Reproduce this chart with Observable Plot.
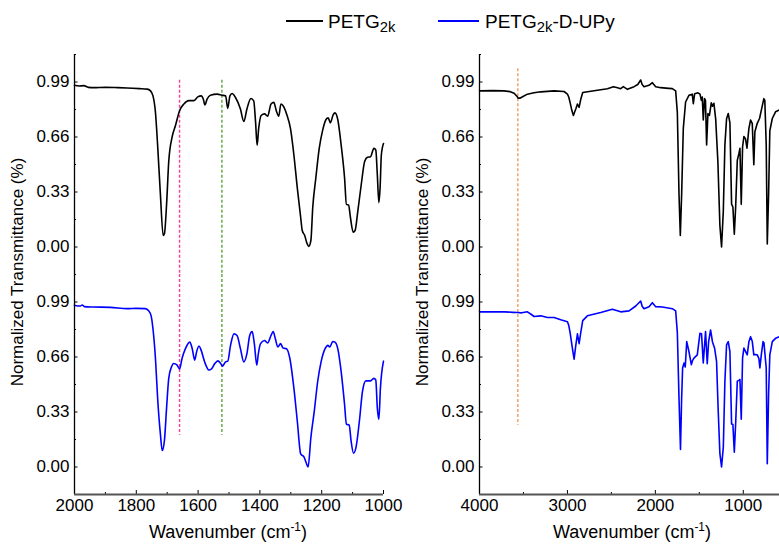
<!DOCTYPE html>
<html>
<head>
<meta charset="utf-8">
<script src="https://cdn.jsdelivr.net/npm/d3@7"></script>
<script src="https://cdn.jsdelivr.net/npm/@observablehq/plot@0.6"></script>
<style>
  html, body { margin: 0; padding: 0; background: #fff; }
  #wrap { position: relative; width: 779px; height: 544px; overflow: hidden; font-family: "Liberation Sans", Arial, sans-serif; color: #000; }
  .legline { position: absolute; height: 0; border-top: 2px solid #000; }
  .legtxt { position: absolute; font-size: 19px; line-height: 19px; white-space: nowrap; }
  .legtxt sub { font-size: 0.78em; vertical-align: -0.3em; line-height: 0; }
  .xtitle { position: absolute; font-size: 18px; line-height: 18px; width: 300px; text-align: center; white-space: nowrap; }
  .xtitle sup { font-size: 0.66em; vertical-align: 0.6em; line-height: 0; }
  .ytitle { position: absolute; font-size: 17px; line-height: 18px; width: 300px; height: 18px; text-align: center; white-space: nowrap; transform: rotate(-90deg); transform-origin: 150px 9px; }
  #left, #right { position: absolute; top: 45px; }
  #left { left: 0; }
  #right { left: 400px; }
  svg { max-width: none !important; }
</style>
</head>
<body>
<div id="wrap">
  <div class="legline" style="left:286px;top:20px;width:37px;border-color:#000"></div>
  <div class="legtxt" style="left:328px;top:12px">PETG<sub>2k</sub></div>
  <div class="legline" style="left:438px;top:20px;width:41px;border-color:#0000ff"></div>
  <div class="legtxt" style="left:485px;top:12px">PETG<sub>2k</sub>-D-UPy</div>

  <div id="left"></div>
  <div id="right"></div>

  <div class="ytitle" style="left:-132px;top:263px">Normalized Transmittance (%)</div>
  <div class="ytitle" style="left:273px;top:263px">Normalized Transmittance (%)</div>
  <div class="xtitle" style="left:78px;top:523px">Wavenumber (cm<sup>-1</sup>)</div>
  <div class="xtitle" style="left:482px;top:523px">Wavenumber (cm<sup>-1</sup>)</div>
</div>
<script>
// ---------- data ----------
const panels = ["PETG2k", "PETG2k-D-UPy"];

// left panel: 2000–1000 cm-1
const leftPetgWn = [2000,1985,1970,1955,1938,1900,1860,1830,1790,1765,1754,1746,1738,1731,1722,1713,1709,1702,1695,1684,1673,1660,1646,1630,1614,1601,1590,1583,1578,1571,1560,1538,1523,1511,1504,1497,1490,1479,1463,1452,1442,1429,1420,1414,1409,1404,1396,1385,1375,1364,1355,1347,1339,1332,1325,1312,1301,1290,1279,1268,1263,1255,1248,1242,1235,1229,1219,1208,1197,1186,1179,1172,1163,1157,1148,1137,1126,1120,1113,1107,1098,1092,1083,1072,1061,1052,1042,1031,1025,1020,1015,1011,1007,1000];
const leftPetgT  = [0.970,0.966,0.968,0.958,0.956,0.958,0.956,0.954,0.950,0.947,0.937,0.907,0.808,0.611,0.316,0.069,0.079,0.256,0.513,0.661,0.730,0.818,0.858,0.878,0.878,0.901,0.907,0.887,0.852,0.887,0.911,0.917,0.911,0.907,0.832,0.907,0.921,0.897,0.828,0.753,0.828,0.891,0.877,0.749,0.611,0.710,0.789,0.799,0.785,0.858,0.868,0.818,0.785,0.858,0.848,0.789,0.710,0.552,0.355,0.177,0.099,0.069,0.024,0.004,0.039,0.237,0.414,0.592,0.700,0.765,0.775,0.745,0.793,0.805,0.765,0.611,0.414,0.256,0.252,0.177,0.089,0.099,0.217,0.375,0.513,0.538,0.542,0.592,0.582,0.434,0.266,0.355,0.552,0.621];

const leftUpyWn = [2000,1990,1981,1975,1968,1940,1884,1830,1800,1771,1760,1752,1746,1738,1731,1722,1716,1709,1702,1695,1686,1679,1668,1660,1652,1641,1627,1619,1611,1605,1597,1590,1579,1565,1557,1546,1536,1527,1521,1511,1504,1495,1484,1474,1463,1452,1442,1433,1425,1418,1410,1405,1398,1385,1375,1364,1357,1350,1342,1333,1325,1314,1303,1290,1279,1268,1257,1251,1244,1235,1224,1213,1202,1189,1180,1174,1164,1157,1148,1137,1126,1120,1111,1105,1097,1089,1078,1068,1057,1042,1031,1025,1020,1015,1010,1000];
const leftUpyT  = [0.970,0.966,0.966,0.972,0.962,0.960,0.958,0.950,0.952,0.950,0.937,0.907,0.828,0.651,0.414,0.197,0.099,0.158,0.355,0.532,0.601,0.621,0.611,0.588,0.651,0.710,0.749,0.710,0.641,0.690,0.726,0.700,0.631,0.582,0.588,0.621,0.637,0.621,0.605,0.631,0.635,0.730,0.799,0.789,0.710,0.631,0.680,0.789,0.812,0.740,0.611,0.680,0.740,0.759,0.745,0.789,0.812,0.769,0.720,0.740,0.714,0.710,0.651,0.473,0.276,0.079,0.059,0.030,0.000,0.177,0.335,0.513,0.631,0.710,0.730,0.720,0.753,0.749,0.710,0.572,0.375,0.256,0.252,0.158,0.083,0.118,0.276,0.454,0.517,0.517,0.532,0.522,0.355,0.286,0.473,0.635];

// right panel: 4000–~600 cm-1
const rightPetgWn = [4000,3850,3720,3650,3606,3575,3561,3540,3511,3455,3380,3303,3152,3038,3000,2985,2970,2950,2932,2918,2905,2886,2867,2848,2826,2697,2545,2477,2430,2394,2364,2318,2242,2200,2167,2150,2129,2072,2034,1996,1939,1850,1807,1769,1750,1731,1716,1701,1682,1656,1618,1580,1568,1553,1515,1492,1477,1466,1455,1440,1430,1417,1402,1385,1364,1350,1334,1314,1289,1266,1247,1227,1209,1190,1171,1152,1133,1118,1102,1087,1068,1050,1038,1023,1008,993,975,958,936,917,898,880,868,841,815,795,766,755,739,727,712,698,670,633,590];
const rightPetgT  = [0.937,0.938,0.937,0.932,0.923,0.905,0.893,0.893,0.901,0.917,0.925,0.931,0.937,0.933,0.917,0.900,0.868,0.820,0.789,0.810,0.828,0.858,0.838,0.887,0.927,0.937,0.950,0.962,0.955,0.950,0.962,0.946,0.962,0.975,1.002,0.975,0.962,0.970,0.986,0.962,0.956,0.952,0.950,0.937,0.808,0.316,0.069,0.316,0.712,0.870,0.910,0.917,0.860,0.920,0.925,0.917,0.880,0.900,0.762,0.890,0.880,0.612,0.800,0.790,0.865,0.845,0.862,0.769,0.514,0.130,0.000,0.216,0.613,0.770,0.801,0.745,0.257,0.240,0.077,0.235,0.520,0.560,0.592,0.256,0.600,0.663,0.650,0.593,0.712,0.762,0.742,0.494,0.692,0.742,0.771,0.820,0.890,0.880,0.612,0.018,0.315,0.697,0.771,0.811,0.822];

const rightUpyWn = [4000,3850,3720,3620,3568,3520,3455,3410,3379,3303,3227,3152,3076,3000,2985,2970,2943,2924,2905,2886,2867,2848,2826,2773,2621,2489,2394,2299,2223,2167,2150,2129,2072,2034,1996,1920,1807,1769,1750,1731,1714,1701,1690,1674,1660,1643,1618,1591,1576,1561,1523,1493,1475,1455,1429,1410,1394,1372,1350,1326,1304,1285,1266,1247,1227,1209,1190,1171,1152,1133,1118,1102,1087,1068,1050,1038,1023,1008,993,955,936,917,898,880,868,841,822,811,795,775,765,739,727,712,698,670,633,590];
const rightUpyT  = [0.931,0.931,0.931,0.928,0.927,0.925,0.931,0.915,0.903,0.907,0.897,0.897,0.883,0.872,0.850,0.808,0.710,0.647,0.730,0.799,0.740,0.808,0.878,0.907,0.927,0.947,0.931,0.937,0.966,0.996,0.965,0.950,0.962,0.986,0.962,0.960,0.950,0.937,0.808,0.414,0.105,0.414,0.594,0.624,0.600,0.752,0.693,0.614,0.640,0.653,0.673,0.802,0.800,0.624,0.812,0.620,0.752,0.822,0.750,0.713,0.634,0.337,0.080,0.000,0.119,0.515,0.733,0.752,0.693,0.258,0.255,0.089,0.258,0.515,0.520,0.525,0.287,0.653,0.713,0.673,0.752,0.782,0.755,0.673,0.675,0.673,0.650,0.594,0.673,0.752,0.745,0.594,0.020,0.436,0.673,0.752,0.772,0.782];

// dashed marker lines (wavenumber) and their vertical extent
const leftMarkerWn = [1660, 1523];
const leftMarkerColor = ["#ff3d96", "#5ca53a"];
const leftMarkerSpan = [1.0, 0.19];    // start in top panel, end in bottom panel
const rightMarkerWn = [3564];
const rightMarkerColor = ["#f29a5c"];
const rightMarkerSpan = [1.07, 0.25];

// axes
const yDomain = [-0.165, 1.155];
const yMajor = [0, 0.33, 0.66, 0.99];
const yMinor = [-0.165, 0.165, 0.495, 0.825, 1.155];
const leftXDomain = [2000, 1000];
const leftXMajor = [2000, 1800, 1600, 1400, 1200, 1000];
const leftXMinor = [1900, 1700, 1500, 1300, 1100];
const rightXDomain = [4000, 588];
const rightXMajor = [4000, 3000, 2000, 1000];
const rightXMinor = [3500, 2500, 1500];

// ---------- drawing ----------
function rows(wn, t, panel) { return wn.map((w, i) => ({wn: w, t: t[i], panel})); }

function markerRules(wns, colors, span) {
  return wns.map((w, i) => Plot.ruleX(
    [{wn: w, panel: panels[0], y1: span[0], y2: yDomain[0]},
     {wn: w, panel: panels[1], y1: yDomain[1], y2: span[1]}],
    {x: "wn", y1: "y1", y2: "y2", fy: "panel", stroke: colors[i], strokeWidth: 1.4, strokeDasharray: "3,2"}
  ));
}

function panelPlot({width, marginLeft, marginRight, xDomain, xMajor, xMinor, petg, upy, markers, curve}) {
  return Plot.plot({
    width, height: 499,
    marginLeft, marginRight, marginTop: 8, marginBottom: 50,
    style: {fontFamily: "'Liberation Sans', Arial, sans-serif", fontSize: "17px", color: "#000", background: "transparent", overflow: "visible"},
    x: {domain: xDomain},
    y: {domain: yDomain},
    fy: {domain: panels, padding: 0, axis: null, label: null},
    marks: [
      ...markers,
      Plot.axisY({ticks: yMajor, tickSize: 0, tickPadding: 5, tickFormat: d3.format(".2f"), label: null}),
      Plot.axisY({ticks: yMajor, tickSize: -3.5, fill: "none", label: null}),
      Plot.axisY({ticks: yMinor, tickSize: -2, fill: "none", label: null}),
      Plot.axisX({ticks: xMajor, tickSize: 0, tickPadding: 4, tickFormat: "d", label: null}),
      Plot.axisX({ticks: xMajor, tickSize: -4, fill: "none", label: null}),
      Plot.axisX({ticks: xMinor, tickSize: -2, fill: "none", label: null}),
      Plot.line(petg, {x: "wn", y: "t", fy: "panel", stroke: "#000", strokeWidth: 1.6, curve}),
      Plot.line(upy, {x: "wn", y: "t", fy: "panel", stroke: "#0000ff", strokeWidth: 1.6, curve}),
      Plot.ruleX([xDomain[0]], {stroke: "#000", strokeWidth: 1.3}),
      Plot.ruleY([yDomain[0]], {facetAnchor: "bottom", stroke: "#555", strokeWidth: 1.8})
    ]
  });
}

document.getElementById("left").append(panelPlot({
  width: 400, marginLeft: 74, marginRight: 17,
  xDomain: leftXDomain, xMajor: leftXMajor, xMinor: leftXMinor,
  petg: rows(leftPetgWn, leftPetgT, panels[0]),
  upy: rows(leftUpyWn, leftUpyT, panels[1]),
  markers: markerRules(leftMarkerWn, leftMarkerColor, leftMarkerSpan),
  curve: "monotone-x"
}));

document.getElementById("right").append(panelPlot({
  width: 379, marginLeft: 79, marginRight: 0,
  xDomain: rightXDomain, xMajor: rightXMajor, xMinor: rightXMinor,
  petg: rows(rightPetgWn, rightPetgT, panels[0]),
  upy: rows(rightUpyWn, rightUpyT, panels[1]),
  markers: markerRules(rightMarkerWn, rightMarkerColor, rightMarkerSpan),
  curve: "linear"
}));
</script>
</body>
</html>
